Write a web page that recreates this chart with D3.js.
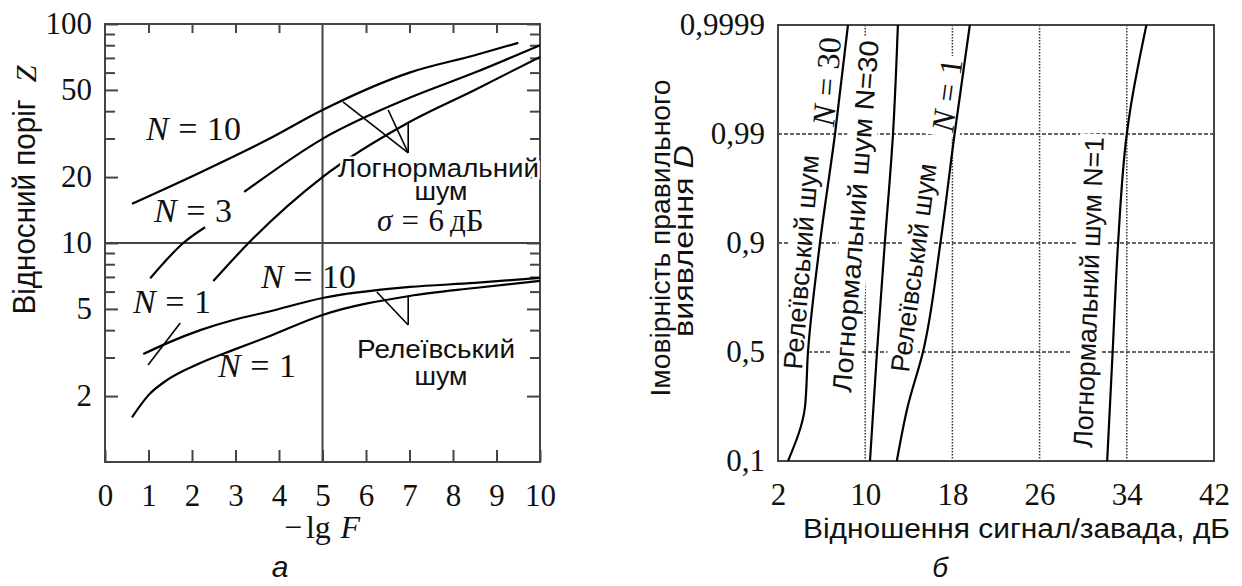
<!DOCTYPE html>
<html>
<head>
<meta charset="utf-8">
<script src="https://cdn.jsdelivr.net/npm/d3@7"></script>
<style>
  body { margin: 0; background: #fff; }
  svg { display: block; }
</style>
</head>
<body>
<div id="chart-area"></div>
<script>
/*
*   Two panels: (a) relative threshold Z vs -lg F, (b) detection probability D vs SNR
*/

// ---------- panel a data ----------
var xTicksA = [0, 1, 2, 3, 4, 5, 6, 7, 8, 9, 10];
var xTopTicksA = [1, 2, 3, 4, 6, 7, 8, 9];
var yMajorA = [2, 5, 10, 20, 50, 100];
var yMinorA = [3, 4, 6, 7, 8, 9, 30, 40, 60, 70, 80, 90];
var gridXA = [5];
var gridYA = [10];

// lognormal noise, sigma = 6 dB
var logN10 = [[0.62, 15.1], [2.19, 21], [3.73, 29.6], [5, 40.5], [7, 60], [8.5, 72], [9.5, 82]];
var logN3a = [[1.04, 6.9], [1.8, 10], [2.3, 11.8]];
var logN3b = [[3.2, 17.1], [5, 29.9], [7, 46], [8.5, 60], [10, 80]];
var logN1 = [[2.49, 6.7], [3.3, 10], [5, 20], [7, 35.7], [8.5, 50], [10, 70.7]];
// rayleigh noise
var rayN10 = [[0.88, 3.11], [1.43, 3.49], [2.19, 4.0], [2.95, 4.45], [3.73, 4.84], [5, 5.61], [7, 6.3], [8.5, 6.57], [10, 6.93]];
var rayN1 = [[0.62, 1.6], [1.0, 2.02], [1.43, 2.37], [2.19, 2.83], [2.95, 3.25], [3.73, 3.72], [5, 4.69], [7, 5.73], [8.5, 6.23], [10, 6.71]];

// leader lines (value coords)
var leadersA = [
    [[5.47, 44.1], [6.97, 25.8]],
    [[6.51, 40.5], [6.97, 25.8]],
    [[6.97, 35.5], [6.97, 25.8]],
    [[6.25, 5.97], [6.97, 4.22]],
    [[6.97, 5.7], [6.97, 4.22]],
    [[0.99, 2.77], [1.73, 4.31]]
];

// ---------- panel b data ----------
var xTicksB = [2, 10, 18, 26, 34, 42];
var yTicksB = [0.1, 0.5, 0.9, 0.99, 0.9999];
var gridXB = [10, 18, 26, 34];
var gridYB = [0.5, 0.9, 0.99];

var rayB30 = [[2.92, 0.1], [4.48, 0.3], [4.75, 0.5], [5.85, 0.9], [7.23, 0.99], [8.42, 0.9999]];
var logB30 = [[10.44, 0.1], [11.08, 0.5], [11.8, 0.9], [12.55, 0.99], [13.0, 0.9999]];
var rayB1 = [[12.9, 0.1], [13.9, 0.3], [15.3, 0.5], [16.9, 0.9], [18.2, 0.99], [19.6, 0.9999]];
var logB1 = [[32.2, 0.1], [32.7, 0.5], [33.2, 0.9], [34.0, 0.99], [34.3, 0.9921], [35.8, 0.9999]];

var SERIF = '"Liberation Serif", "Times New Roman", serif';
var SANS = '"Liberation Sans", Arial, sans-serif';
var INK = "#111";
var FRAME = "#444";

var svg = d3.select("#chart-area").append("svg")
    .attr("width", 1242)
    .attr("height", 586);

function cleanAxis(sel, size) {
    sel.attr("font-family", null).attr("font-size", null);
    sel.select(".domain").remove();
    sel.selectAll(".tick line").attr("stroke", FRAME).attr("stroke-width", 2);
    sel.selectAll(".tick text")
        .attr("font-family", SERIF)
        .attr("font-size", size || 31)
        .attr("fill", INK);
}

// "N = 10" style label, N italic
function nLabel(parent, x, y, num, size) {
    var t = parent.append("text")
        .attr("x", x).attr("y", y)
        .attr("font-family", SERIF)
        .attr("font-size", size)
        .attr("fill", INK);
    t.append("tspan").attr("font-style", "italic").text("N");
    t.append("tspan").attr("dx", "0.28em").text("=");
    t.append("tspan").attr("dx", "0.28em").text(num);
    return t;
}

/******************************** Panel a ********************************/

var xA = d3.scaleLinear().domain([0, 10]).range([105, 540]);
var yA = d3.scaleLog().domain([1, 100]).range([462, 24]);

var gA = svg.append("g");

// gridlines at 5 and 10
gA.selectAll(".gx").data(gridXA).enter().append("line")
    .attr("x1", d => xA(d)).attr("x2", d => xA(d))
    .attr("y1", yA(100)).attr("y2", yA(1))
    .attr("stroke", FRAME).attr("stroke-width", 2);
gA.selectAll(".gy").data(gridYA).enter().append("line")
    .attr("x1", xA(0)).attr("x2", xA(10))
    .attr("y1", d => yA(d)).attr("y2", d => yA(d))
    .attr("stroke", FRAME).attr("stroke-width", 1.8);

// axes (ticks point inward)
gA.append("g").attr("transform", "translate(0," + yA(1) + ")")
    .call(d3.axisBottom(xA).tickValues(xTicksA).tickSize(-12).tickPadding(22).tickFormat(d3.format("d")))
    .call(cleanAxis);
gA.append("g").attr("transform", "translate(0," + yA(100) + ")")
    .call(d3.axisTop(xA).tickValues(xTopTicksA).tickSize(-9).tickFormat(""))
    .call(cleanAxis);
gA.append("g").attr("transform", "translate(" + xA(0) + ",0)")
    .call(d3.axisLeft(yA).tickValues(yMajorA).tickSize(-13).tickPadding(13).tickFormat(d3.format("d")))
    .call(cleanAxis);
gA.append("g").attr("transform", "translate(" + xA(0) + ",0)")
    .call(d3.axisLeft(yA).tickValues(yMinorA).tickSize(-10).tickFormat(""))
    .call(cleanAxis);
gA.append("g").attr("transform", "translate(" + xA(10) + ",0)")
    .call(d3.axisRight(yA).tickValues(yMajorA).tickSize(-13).tickFormat(""))
    .call(cleanAxis);
gA.append("g").attr("transform", "translate(" + xA(10) + ",0)")
    .call(d3.axisRight(yA).tickValues(yMinorA).tickSize(-10).tickFormat(""))
    .call(cleanAxis);

// frame
gA.append("rect")
    .attr("x", xA(0)).attr("y", yA(100))
    .attr("width", xA(10) - xA(0)).attr("height", yA(1) - yA(100))
    .attr("fill", "none").attr("stroke", FRAME).attr("stroke-width", 2);

// labels
nLabel(gA, 146, 140, "10", 34);
nLabel(gA, 154, 222, "3", 34);
nLabel(gA, 133, 313, "1", 34);
nLabel(gA, 261, 288, "10", 34);
nLabel(gA, 218, 377, "1", 34);

var sig = gA.append("text").attr("x", 377).attr("y", 231)
    .attr("font-family", SERIF).attr("font-size", 31).attr("fill", INK);
sig.append("tspan").attr("font-style", "italic").text("σ");
sig.append("tspan").attr("dx", "0.3em").text("=");
sig.append("tspan").attr("dx", "0.3em").text("6");
sig.append("tspan").attr("dx", "0.2em").text("дБ");

// curves
var lineA = d3.line()
    .x(d => xA(d[0]))
    .y(d => yA(d[1]))
    .curve(d3.curveMonotoneX);

[logN10, logN3a, logN3b, logN1, rayN10, rayN1].forEach(function(s) {
    gA.append("path")
        .attr("d", lineA(s))
        .attr("fill", "none")
        .attr("stroke", "#000")
        .attr("stroke-width", 2.2);
});

gA.selectAll(".leader").data(leadersA).enter().append("path")
    .attr("d", d => d3.line().x(p => xA(p[0])).y(p => yA(p[1]))(d))
    .attr("fill", "none").attr("stroke", "#000").attr("stroke-width", 1.6);

var sansA = [
    { t: "Логнормальний", x: 338, y: 177, len: 201, anchor: "start", halo: true },
    { t: "шум", x: 441, y: 200, len: 53, anchor: "middle" },
    { t: "Релеївський", x: 357, y: 358, len: 158, anchor: "start" },
    { t: "шум", x: 441, y: 385, len: 53, anchor: "middle" }
];
sansA.forEach(function(d) {
    var t = gA.append("text")
        .attr("x", d.x).attr("y", d.y)
        .attr("text-anchor", d.anchor)
        .attr("font-family", SANS).attr("font-size", 26).attr("fill", INK)
        .attr("textLength", d.len).attr("lengthAdjust", "spacingAndGlyphs")
        .text(d.t);
    if (d.halo) t.attr("stroke", "#fff").attr("stroke-width", 5).attr("paint-order", "stroke");
});

// axis titles
var xtA = gA.append("text").attr("x", 284).attr("y", 538)
    .attr("font-family", SERIF).attr("font-size", 32).attr("fill", INK);
xtA.append("tspan").text("−");
xtA.append("tspan").attr("dx", "0.12em").text("lg");
xtA.append("tspan").attr("dx", "0.3em").attr("font-style", "italic").text("F");

gA.append("text")
    .attr("transform", "translate(35,207) rotate(-90)")
    .attr("text-anchor", "middle")
    .attr("font-family", SANS).attr("font-size", 31).attr("fill", INK)
    .attr("textLength", 215).attr("lengthAdjust", "spacingAndGlyphs")
    .text("Відносний поріг");
gA.append("text")
    .attr("transform", "translate(36,74) rotate(-90)")
    .attr("text-anchor", "middle")
    .attr("font-family", SERIF).attr("font-size", 30).attr("font-style", "italic").attr("fill", INK)
    .text("Z");

gA.append("text")
    .attr("x", 280).attr("y", 577).attr("text-anchor", "middle")
    .attr("font-family", SANS).attr("font-size", 30).attr("font-style", "italic").attr("fill", INK)
    .text("а");

/******************************** Panel b ********************************/

var xB = d3.scaleLinear().domain([2, 42]).range([778, 1214]);
var yB = d3.scaleLinear()
    .domain(yTicksB)
    .range(yTicksB.map((d, i) => 461 - i * (461 - 25) / (yTicksB.length - 1)));
var fmtComma = d3.formatLocale({ decimal: ",", thousands: " ", grouping: [3], currency: ["", ""] }).format("");

var gB = svg.append("g");

gB.selectAll(".gx").data(gridXB).enter().append("line")
    .attr("x1", d => xB(d)).attr("x2", d => xB(d))
    .attr("y1", yB(0.9999)).attr("y2", yB(0.1))
    .attr("stroke", "#333").attr("stroke-width", 1.5).attr("stroke-dasharray", "1.5,1.5");
gB.selectAll(".gy").data(gridYB).enter().append("line")
    .attr("x1", xB(2)).attr("x2", xB(42))
    .attr("y1", d => yB(d)).attr("y2", d => yB(d))
    .attr("stroke", "#333").attr("stroke-width", 1.5).attr("stroke-dasharray", "4,2");

gB.append("g").attr("transform", "translate(0," + yB(0.1) + ")")
    .call(d3.axisBottom(xB).tickValues(xTicksB).tickSize(0).tickPadding(22).tickFormat(d3.format("d")))
    .call(cleanAxis);
gB.append("g").attr("transform", "translate(" + xB(2) + ",0)")
    .call(d3.axisLeft(yB).tickValues(yTicksB).tickSize(0).tickPadding(13).tickFormat(fmtComma))
    .call(cleanAxis);

// rotated labels with white backing that cuts the grid
function rotLabel(parent, x, y, angle, len, build) {
    var g = parent.append("g").attr("transform", "translate(" + x + "," + y + ") rotate(" + angle + ")");
    var bg = g.append("rect").attr("fill", "#fff");
    var t = g.append("text").attr("fill", INK);
    build(t);
    if (len) t.attr("textLength", len).attr("lengthAdjust", "spacingAndGlyphs");
    var b = t.node().getBBox();
    bg.attr("x", b.x - 3).attr("y", b.y).attr("width", b.width + 6).attr("height", b.height);
}
function sansText(str) {
    return function(t) { t.attr("font-family", SANS).attr("font-size", 27).text(str); };
}
function nText(num) {
    return function(t) {
        t.attr("font-family", SERIF).attr("font-size", 32);
        t.append("tspan").attr("font-style", "italic").text("N");
        t.append("tspan").attr("dx", "0.28em").text("=");
        t.append("tspan").attr("dx", "0.28em").text(num);
    };
}

rotLabel(gB, 802, 370, -85.5, 215, sansText("Релеївський шум"));
rotLabel(gB, 834, 127, -85.5, null, nText("30"));
rotLabel(gB, 851, 393, -85.5, 353, sansText("Логнормальний шум N=30"));
rotLabel(gB, 909, 373, -82.4, 210, sansText("Релеївський шум"));
rotLabel(gB, 953, 133, -82.4, null, nText("1"));
rotLabel(gB, 1092, 448, -87.8, 311, sansText("Логнормальний шум N=1"));

gB.append("rect")
    .attr("x", xB(2)).attr("y", yB(0.9999))
    .attr("width", xB(42) - xB(2)).attr("height", yB(0.1) - yB(0.9999))
    .attr("fill", "none").attr("stroke", FRAME).attr("stroke-width", 2);

var lineB = d3.line()
    .x(d => xB(d[0]))
    .y(d => yB(d[1]))
    .curve(d3.curveMonotoneY);

[rayB30, logB30, rayB1, logB1].forEach(function(s) {
    gB.append("path")
        .attr("d", lineB(s))
        .attr("fill", "none")
        .attr("stroke", "#000")
        .attr("stroke-width", 2.2);
});

// axis titles
gB.append("text")
    .attr("x", 803).attr("y", 538)
    .attr("font-family", SANS).attr("font-size", 27).attr("fill", INK)
    .attr("textLength", 427).attr("lengthAdjust", "spacingAndGlyphs")
    .text("Відношення сигнал/завада, дБ");

gB.append("text")
    .attr("transform", "translate(670,238) rotate(-90)")
    .attr("text-anchor", "middle")
    .attr("font-family", SANS).attr("font-size", 27).attr("fill", INK)
    .attr("textLength", 317).attr("lengthAdjust", "spacingAndGlyphs")
    .text("Імовірність правильного");
var yt2 = gB.append("text")
    .attr("transform", "translate(693,241) rotate(-90)")
    .attr("text-anchor", "middle")
    .attr("font-family", SANS).attr("font-size", 27).attr("fill", INK)
    .attr("textLength", 192).attr("lengthAdjust", "spacingAndGlyphs");
yt2.append("tspan").text("виявлення ");
yt2.append("tspan").attr("font-style", "italic").text("D");

gB.append("text")
    .attr("x", 940).attr("y", 577).attr("text-anchor", "middle")
    .attr("font-family", SANS).attr("font-size", 28).attr("font-style", "italic").attr("fill", INK)
    .text("б");
</script>
</body>
</html>
